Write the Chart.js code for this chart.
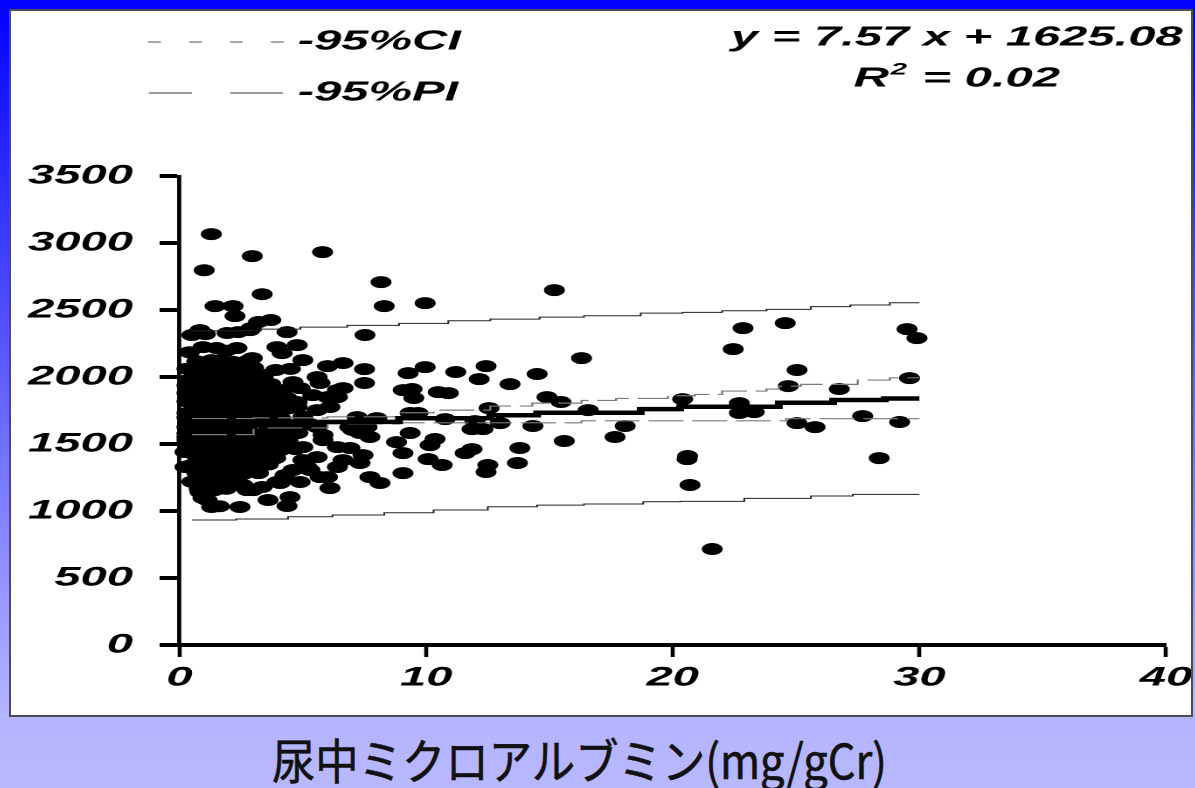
<!DOCTYPE html>
<html>
<head>
<meta charset="utf-8">
<script src="https://cdn.jsdelivr.net/npm/chart.js@4.4.0/dist/chart.umd.min.js"></script>
<style>
html,body{margin:0;padding:0;width:1195px;height:788px;overflow:hidden;}
body{position:relative;background:linear-gradient(to bottom,#0000ff 0px,#b4b4ff 712px,#b8b8ff 788px);}
#panel{position:absolute;left:9px;top:9px;width:1184px;height:708px;box-sizing:border-box;border:2px solid #4d4d58;background:#fff;overflow:hidden;}
#stretch{position:absolute;left:0;top:0;width:675px;height:704px;transform:scaleX(1.748148);transform-origin:0 0;}
#title{position:absolute;left:272px;top:731px;font-family:"Noto Sans CJK JP",sans-serif;font-size:48px;line-height:54px;color:#111;white-space:nowrap;transform-origin:0 0;-webkit-text-stroke:0.6px #111;}
</style>
</head>
<body>
<div id="panel"><div id="stretch"><canvas id="c"></canvas></div></div>
<div id="title">尿中ミクロアルブミン(mg/gCr)</div>
<script>
// ---- texts ----
const legendLabels = ['-95%CI', '-95%PI'];
const equationText = 'y = 7.57 x + 1625.08';
const r2Label = ['R', '2', ' = 0.02'];
const xAxisTitle = '尿中ミクロアルブミン(mg/gCr)';

// ---- ticks ----
const xTickValues = [0, 10, 20, 30, 40];
const xTickLabels = ['0', '10', '20', '30', '40'];
const yTickValues = [0, 500, 1000, 1500, 2000, 2500, 3000, 3500];
const yTickLabels = ['0', '500', '1000', '1500', '2000', '2500', '3000', '3500'];

// ---- regression / interval lines (step starts) ----
const regX = [0.5, 3, 5.8, 8.9, 12.6, 14.5, 18.7, 20.3, 24.3, 26.5, 28.6, 30];
const regY = [1630, 1648, 1665, 1692, 1715, 1733, 1760, 1778, 1808, 1828, 1840, 1840];
const ciUpperX = [0.5, 3, 6, 8.9, 10.3, 12.6, 14.3, 16.3, 17.7, 19.8, 20.9, 22.0, 23.8, 24.3, 25.2, 27.5, 28.8, 30];
const ciUpperY = [1690, 1695, 1703, 1733, 1753, 1783, 1805, 1825, 1840, 1860, 1870, 1895, 1910, 1932, 1945, 1977, 1994, 1994];
const ciLowerX = [0.5, 3, 6, 8.9, 16.3, 24.6, 30];
const ciLowerY = [1570, 1620, 1650, 1658, 1673, 1689, 1689];
const piUpperX = [0.5, 3.3, 4.9, 6.8, 8.9, 10.9, 12.6, 14.6, 16.4, 18.7, 20.4, 22.0, 23.8, 25.6, 27.2, 28.8, 30];
const piUpperY = [2345, 2357, 2372, 2385, 2400, 2420, 2432, 2447, 2457, 2477, 2482, 2494, 2505, 2525, 2537, 2554, 2554];
const piLowerX = [0.5, 2.3, 4.4, 6.2, 8.3, 10.3, 12.5, 14.5, 16.4, 18.8, 20.3, 22.9, 25.6, 27.3, 30];
const piLowerY = [933, 940, 957, 970, 987, 1007, 1032, 1044, 1052, 1069, 1072, 1094, 1112, 1124, 1124];

// ---- scatter points [albumin, value] ----
const upperPoints = [
  [1.29,3066],[1.0,2797],[2.95,2902],[5.8,2932],[3.35,2618],[8.17,2708],[8.3,2529],[9.96,2551],
  [1.44,2529],[2.17,2529],[2.25,2454],[3.2,2410],[3.7,2425],[2.9,2365],[0.83,2350],[0.5,2313],
  [1.05,2320],[1.93,2328],[2.37,2335],[2.86,2350],[4.36,2335],[7.52,2313],[0.95,2223],[1.5,2216],
  [2.33,2216],[2.95,2141],[3.95,2223],[4.77,2238],[4.16,2178],[5.0,2126],[0.83,2111],[1.64,2126]
];
const leftSpread = [
  [6.0,2081],[6.63,2104],[7.5,2059],[7.5,1955],[9.27,2029],[9.07,1902],[9.5,1843],[4.6,1962],
  [5.58,1999],[5.7,1955],[6.4,1902],[6.63,1917],[5.4,1865],[4.2,1902],[3.95,1828],[4.77,1813],
  [6.1,1776],[7.2,1701],[8.0,1693],[6.9,1626],[7.6,1626],[8.8,1514],[9.35,1582],[4.36,1843],
  [4.89,1917],[6.0,1850],[6.4,1850],[3.14,2029],[3.39,1977],[2.86,1917],[5.58,1753],[4.77,1776],
  [3.26,1828],[9.35,1731],[7.72,1552],[7.32,1582],[6.91,1470],[6.63,1380],[6.4,1328],[6.0,1253],
  [6.1,1171],[7.72,1253],[8.13,1209],[7.44,1417],[7.32,1358],[4.28,1268],[4.89,1216],[3.95,1216],
  [3.35,1179],[4.48,1104],[3.59,1082],[2.74,1156],[2.45,1030],[1.62,1035],[1.3,1030],[1.12,1082],
  [0.83,1141],[5.0,1380],[5.29,1306],[5.58,1402],[5.0,1477],[5.82,1529],[4.77,1604],[5.58,1626],
  [5.82,1567],[4.36,1037],[4.08,1209],[2.98,1156],[2.57,1194],[0.95,1097],[5.7,1253],[5.17,1328],
  [4.6,1306],[6.4,1477],[7.03,1604],[0.22,1440],[0.22,1328],[0.3,1552],[0.34,1977],[0.3,1880],
  [0.3,1731],[0.3,1626],[0.3,1529]
];
const denseCore = [
  [0.4,2185],[1.9,2196],
  [0.7,2118],[1.3,2126],[2.2,2112],[2.8,2124],
  [0.3,2062],[1.0,2055],[1.6,2066],[2.4,2058],[3.0,2070],[3.9,2052],[4.5,2061],
  [0.6,2004],[1.2,1995],[1.9,2008],[2.6,1998],[3.4,2006],
  [0.3,1938],[0.9,1946],[1.5,1935],[2.2,1944],[2.9,1937],[3.7,1948],
  [0.6,1884],[1.2,1876],[1.8,1888],[2.5,1879],[3.2,1886],[3.9,1875],
  [0.3,1818],[0.9,1826],[1.5,1815],[2.1,1824],[2.8,1817],[3.5,1828],
  [0.6,1764],[1.2,1756],[1.9,1768],[2.5,1757],[3.1,1762],[3.8,1754],[4.4,1766],
  [0.3,1698],[0.9,1706],[1.5,1695],[2.2,1704],[2.8,1697],[3.5,1708],[4.1,1694],[5.0,1703],
  [0.6,1644],[1.2,1636],[1.8,1646],[2.5,1638],[3.2,1645],[3.8,1635],[4.5,1642],[5.3,1648],
  [0.3,1578],[0.9,1586],[1.5,1575],[2.1,1584],[2.8,1577],[3.5,1588],[4.2,1574],[4.8,1582],
  [0.6,1524],[1.2,1516],[1.9,1526],[2.5,1518],[3.1,1523],[3.8,1515],[4.4,1527],
  [0.4,1458],[1.0,1466],[1.6,1455],[2.2,1464],[2.9,1457],[3.5,1467],[4.1,1454],[4.7,1462],
  [0.7,1404],[1.3,1396],[1.9,1406],[2.6,1398],[3.2,1405],[3.9,1395],
  [0.4,1338],[1.0,1346],[1.6,1335],[2.3,1344],[2.9,1337],[3.6,1347],
  [0.7,1284],[1.3,1276],[1.9,1286],[2.6,1278],[3.2,1283],
  [0.5,1218],[1.0,1226],[1.6,1215],[2.2,1224],
  [0.8,1162],[1.4,1155],[1.9,1166]
];
const middleSpread = [
  [9.96,2074],[11.2,2037],[12.43,2081],[12.15,1984],[13.4,1947],[14.5,2022],[9.43,1910],[10.49,1887],
  [10.9,1880],[14.9,1850],[15.47,1813],[12.55,1768],[16.57,1753],[9.67,1731],[10.77,1686],[11.98,1671],
  [11.86,1611],[12.3,1611],[13.0,1656],[14.33,1634],[18.07,1634],[17.66,1552],[15.6,1522],[10.36,1537],
  [10.16,1492],[9.06,1432],[10.08,1387],[10.65,1343],[11.58,1432],[11.86,1462],[13.8,1470],[13.7,1358],
  [12.5,1343],[12.43,1291],[9.06,1283],[15.2,2648],[16.3,2141]
];
const rightSpread = [
  [20.4,1835],[22.7,1805],[22.7,1731],[23.3,1738],[25.04,1656],[20.6,1410],[20.58,1387],[20.7,1194],
  [21.6,716],[22.85,2365],[22.45,2208],[24.56,2402],[25.04,2052],[24.68,1932],[29.5,2357],[29.9,2290],
  [29.6,1992],[26.75,1910],[25.77,1626],[27.7,1708],[29.2,1664],[28.37,1395]
];

const toXY = (xs, ys) => xs.map((x, i) => ({ x: x, y: ys[i] }));
const pairsToXY = (arr) => arr.map(p => ({ x: p[0], y: p[1] }));
const scatterData = [].concat(
  pairsToXY(upperPoints), pairsToXY(leftSpread), pairsToXY(denseCore),
  pairsToXY(middleSpread), pairsToXY(rightSpread)
);

const FONT = '"Liberation Sans", Arial, sans-serif';
const tickFont = { family: FONT, size: 27, style: 'italic', weight: 'bold' };

const textPlugin = {
  id: 'slideTexts',
  afterDraw(chart) {
    const ctx = chart.ctx;
    ctx.save();
    // legend samples
    ctx.strokeStyle = '#8a8a8a'; ctx.lineWidth = 1.5; ctx.setLineDash([7.4, 16]);
    ctx.beginPath(); ctx.moveTo(78.4, 31); ctx.lineTo(156, 31); ctx.stroke();
    ctx.setLineDash([]);
    ctx.strokeStyle = '#333'; ctx.lineWidth = 1;
    ctx.beginPath();
    ctx.moveTo(78.9, 82); ctx.lineTo(103.5, 82);
    ctx.moveTo(125.3, 82); ctx.lineTo(155.5, 82);
    ctx.stroke();
    ctx.fillStyle = '#000';
    ctx.font = 'italic bold 28px ' + FONT;
    ctx.textBaseline = 'middle';
    ctx.textAlign = 'left';
    ctx.fillText(legendLabels[0], 164, 31);
    ctx.fillText(legendLabels[1], 164, 82);
    // equation
    ctx.textAlign = 'center';
    ctx.fillText(equationText, 541, 27);
    // R^2 line
    ctx.textAlign = 'left';
    const bigFont = 'italic bold 28px ' + FONT, smallFont = 'italic bold 17px ' + FONT;
    ctx.font = bigFont; const wR = ctx.measureText(r2Label[0]).width; const wRest = ctx.measureText(r2Label[2]).width;
    ctx.font = smallFont; const w2 = ctx.measureText(r2Label[1]).width + 2;
    const x0 = 541 - (wR + w2 + wRest) / 2;
    const yy = 68;
    ctx.font = bigFont; ctx.fillText(r2Label[0], x0, yy);
    ctx.font = smallFont; ctx.fillText(r2Label[1], x0 + wR + 1, yy - 9);
    ctx.font = bigFont; ctx.fillText(r2Label[2], x0 + wR + w2, yy);
    ctx.restore();
  }
};

const lineDs = (xs, ys, color, width, dash) => ({
  type: 'line', data: toXY(xs, ys), showLine: true, stepped: true,
  borderColor: color, borderWidth: width, borderDash: dash, pointRadius: 0,
  fill: false, order: 1
});

new Chart(document.getElementById('c'), {
  type: 'scatter',
  data: {
    datasets: [
      Object.assign(lineDs(regX, regY, '#000', 4.5, []), { order: 0 }),
      lineDs(ciUpperX, ciUpperY, '#7a7a7a', 1.2, [20, 5]),
      lineDs(ciLowerX, ciLowerY, '#7a7a7a', 1.2, [20, 5]),
      lineDs(piUpperX, piUpperY, '#222', 1, []),
      lineDs(piLowerX, piLowerY, '#222', 1, []),
      { type: 'scatter', data: scatterData, pointRadius: 6, pointHoverRadius: 6,
        backgroundColor: '#000', borderColor: '#000', borderWidth: 0, order: 5, clip: false }
    ]
  },
  options: {
    responsive: true, maintainAspectRatio: false, animation: false, devicePixelRatio: 2,
    layout: { padding: { left: 0, right: 14.3, top: 165, bottom: 0 } },
    plugins: { legend: { display: false }, tooltip: { enabled: false } },
    events: [],
    scales: {
      x: {
        type: 'linear', min: 0, max: 40,
        afterBuildTicks(s) { s.ticks = xTickValues.map(v => ({ value: v })); },
        afterFit(s) { s.height = 70; s.paddingLeft = 0; s.paddingRight = 0; },
        grid: { drawOnChartArea: false, drawTicks: true, tickLength: 12, tickWidth: 2.3, color: '#000' },
        border: { display: true, color: '#000', width: 4 },
        ticks: { color: '#000', font: tickFont, padding: 5, maxRotation: 0, autoSkip: false,
          callback: (v, i) => xTickLabels[i] }
      },
      y: {
        type: 'linear', min: 0, max: 3500,
        afterBuildTicks(s) { s.ticks = yTickValues.map(v => ({ value: v })); },
        afterFit(s) { s.width = 96.4; s.paddingTop = 0; s.paddingBottom = 0; },
        grid: { drawOnChartArea: false, drawTicks: true, tickLength: 11.4, tickWidth: 4, color: '#000' },
        border: { display: true, color: '#000', width: 2.4 },
        ticks: { color: '#000', font: tickFont, padding: 15.2, autoSkip: false,
          callback: (v, i) => yTickLabels[i] }
      }
    }
  },
  plugins: [textPlugin]
});

// fit the bottom caption to the width it occupies in the slide
const t = document.getElementById('title');
t.textContent = xAxisTitle;
const tw = t.getBoundingClientRect().width;
t.style.transform = 'scaleX(' + (615 / tw) + ')';
</script>
</body>
</html>
